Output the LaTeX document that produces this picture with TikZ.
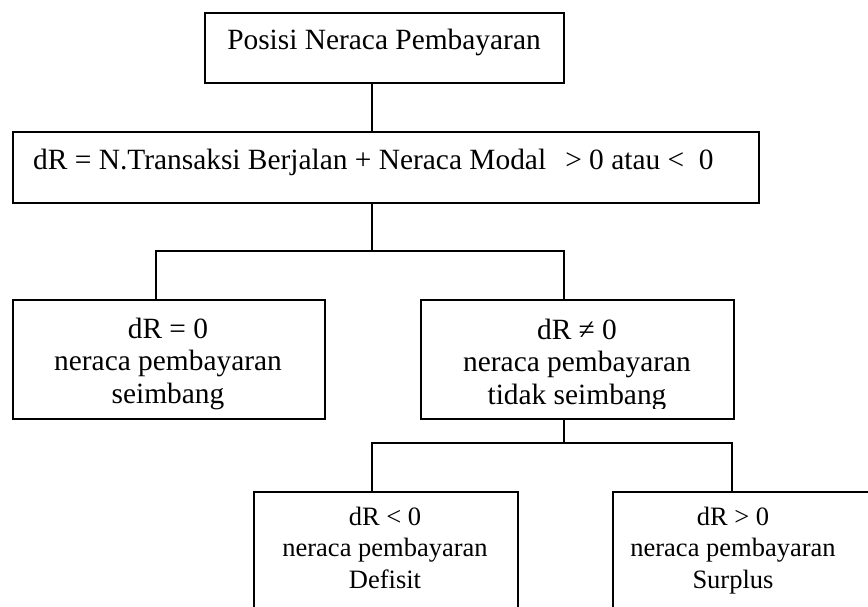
\documentclass[tikz,border=0pt]{standalone}
\usepackage{fontspec}
\setmainfont{Liberation Serif}
\usetikzlibrary{calc}
\begin{document}
\begin{tikzpicture}[x=1pt,y=-1pt,
  box/.style={draw, line width=1.6pt, inner sep=0pt, anchor=north west},
  link/.style={line width=1.6pt},
  bigtext/.style={font=\fontsize{29.4}{32.5}\selectfont, align=center, inner sep=0pt, anchor=base},
  smalltext/.style={font=\fontsize{26.5}{31.5}\selectfont, align=center, inner sep=0pt, anchor=base}]
\useasboundingbox (0,0) rectangle (868,607);
\clip (0,0) rectangle (868,607);

% boxes
\node[box, minimum width=359pt, minimum height=70pt] (top) at (204,12) {};
\node[box, minimum width=746pt, minimum height=71pt] (main) at (12,131) {};
\node[box, minimum width=312pt, minimum height=119pt] (eq) at (12,299) {};
\node[box, minimum width=313pt, minimum height=119pt] (neq) at (420,299) {};
\node[box, minimum width=264pt, minimum height=140pt] (def) at (253,491) {};
\node[box, minimum width=264pt, minimum height=140pt] (sur) at (612,491) {};

% texts (base anchor = baseline of the last line)
\node[bigtext] (toptxt) at (384,50) {Posisi Neraca Pembayaran};
\node[bigtext, anchor=base west] (maintxt) at (33,170)
  {dR = N.Transaksi Berjalan + Neraca Modal\hspace{0.65em}> 0 atau <\hspace{0.5em}0};
\node[bigtext] (eqtxt) at (168,403) {dR = 0\\neraca pembayaran\\seimbang};
\begin{scope}
  \clip (420,299) rectangle (733,408);
  \node[bigtext] (neqtxt) at (577,404) {dR ≠ 0\\neraca pembayaran\\tidak seimbang};
\end{scope}
\node[smalltext] (deftxt) at (385,588) {dR < 0\\neraca pembayaran\\Defisit};
\node[smalltext] (surtxt) at (733,588) {dR > 0\\neraca pembayaran\\Surplus};

% connector routing points
\coordinate (trunk) at (372,0);
\coordinate (fork1) at (372,251);
\coordinate (eqdrop) at (156,251);
\coordinate (neqdrop) at (564,251);
\coordinate (fork2) at (564,443);
\coordinate (defdrop) at (372,443);
\coordinate (surdrop) at (732,443);

% connectors
\draw[link] (top.south -| trunk) -- (main.north -| trunk);
\draw[link] (main.south -| fork1) -- (fork1);
\draw[link] (eq.north -| eqdrop) -- (eqdrop) -- (neqdrop) -- (neq.north -| neqdrop);
\draw[link] (neq.south -| fork2) -- (fork2);
\draw[link] (def.north -| defdrop) -- (defdrop) -- (surdrop) -- (sur.north -| surdrop);
\end{tikzpicture}
\end{document}
